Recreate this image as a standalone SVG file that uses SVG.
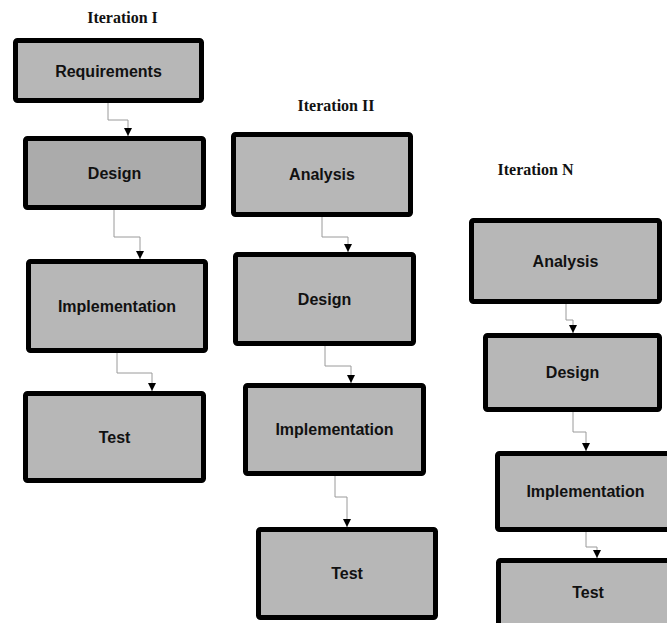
<svg xmlns="http://www.w3.org/2000/svg" width="667" height="623" viewBox="0 0 667 623">
<style>
.box{fill:#b7b7b7;stroke:#000;stroke-width:5}
.dark{fill:#ababab}
.lbl{font-family:"Liberation Sans",Arial,sans-serif;font-weight:bold;font-size:16px;fill:#111;text-anchor:middle}
.title{font-family:"Liberation Serif","Times New Roman",serif;font-weight:bold;font-size:16px;fill:#111;text-anchor:middle}
.conn{fill:none;stroke:#9a9a9a;stroke-width:1;marker-end:url(#arr)}
</style>
<defs>
<marker id="arr" markerUnits="userSpaceOnUse" markerWidth="8" markerHeight="8" refX="8" refY="4" orient="auto">
<path d="M0,0 L8,4 L0,8 z" fill="#000"/>
</marker>
</defs>
<rect width="667" height="623" fill="#fff"/>
<text class="title" x="122.5" y="23">Iteration I</text>
<text class="title" x="336" y="111">Iteration II</text>
<text class="title" x="535.5" y="175">Iteration N</text>
<g id="connectors">
<path class="conn" d="M108,103 V120 H128 V136"/>
<path class="conn" d="M114,210 V237 H140 V259"/>
<path class="conn" d="M117,353 V373 H152 V391"/>
<path class="conn" d="M322,217 V237 H348 V252"/>
<path class="conn" d="M325,346 V366 H351 V383"/>
<path class="conn" d="M335,476 V497 H347 V527"/>
<path class="conn" d="M566,304 V320 H573 V333"/>
<path class="conn" d="M573,412 V432 H586 V451"/>
<path class="conn" d="M586,532 V547 H597 V558"/>
</g>
<g id="i1-requirements"><rect class="box" x="15.5" y="40.5" width="186" height="60" rx="2"/><text class="lbl" x="108.5" y="76.5">Requirements</text></g>
<g id="i1-design"><rect class="box dark" x="25.5" y="138.5" width="178" height="69" rx="2"/><text class="lbl" x="114.5" y="178.5">Design</text></g>
<g id="i1-implementation"><rect class="box" x="28.5" y="261.5" width="177" height="89" rx="2"/><text class="lbl" x="117" y="311.5">Implementation</text></g>
<g id="i1-test"><rect class="box" x="25.5" y="393.5" width="178" height="87" rx="2"/><text class="lbl" x="114.5" y="442.5">Test</text></g>
<g id="i2-analysis"><rect class="box" x="233.5" y="134.5" width="177" height="80" rx="2"/><text class="lbl" x="322" y="180">Analysis</text></g>
<g id="i2-design"><rect class="box" x="235.5" y="254.5" width="178" height="89" rx="2"/><text class="lbl" x="324.5" y="304.5">Design</text></g>
<g id="i2-implementation"><rect class="box" x="245.5" y="385.5" width="178" height="88" rx="2"/><text class="lbl" x="334.5" y="435">Implementation</text></g>
<g id="i2-test"><rect class="box" x="258.5" y="529.5" width="177" height="88" rx="2"/><text class="lbl" x="347" y="579">Test</text></g>
<g id="in-analysis"><rect class="box" x="471.5" y="220.5" width="188" height="81" rx="2"/><text class="lbl" x="565.5" y="266.5">Analysis</text></g>
<g id="in-design"><rect class="box" x="485.5" y="335.5" width="174" height="74" rx="2"/><text class="lbl" x="572.5" y="378">Design</text></g>
<g id="in-implementation"><rect class="box" x="497.5" y="453.5" width="180" height="76" rx="2"/><text class="lbl" x="585.5" y="497">Implementation</text></g>
<g id="in-test"><rect class="box" x="498.5" y="560.5" width="180" height="80" rx="2"/><text class="lbl" x="588" y="598">Test</text></g>
</svg>
